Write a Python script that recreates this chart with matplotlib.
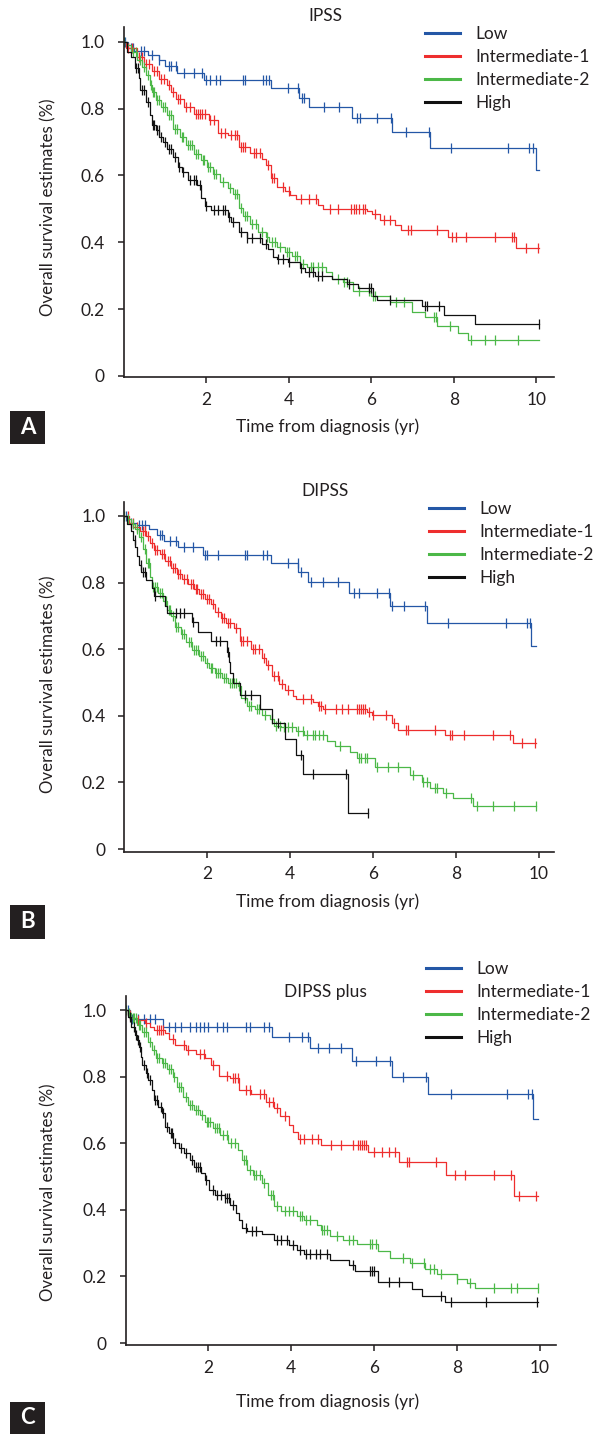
import matplotlib
matplotlib.use('Agg')
import matplotlib.pyplot as plt
from matplotlib.lines import Line2D
from matplotlib.patches import Rectangle
import numpy as np

plt.rcParams['font.family'] = ['Lato', 'DejaVu Sans']

W, H = 593, 1434
TXT = '#231f20'
COLORS = ['#2457a6', '#ee2e2e', '#4cb848', '#111111']
GROUPS = ['Low', 'Intermediate-1', 'Intermediate-2', 'High']
TITLES = ['IPSS', 'DIPSS', 'DIPSS plus']
LETTERS = ['A', 'B', 'C']
YTICKS = [0, 0.2, 0.4, 0.6, 0.8, 1.0]
YTICKLABELS = ['0', '0.2', '0.4', '0.6', '0.8', '1.0']
XTICKS = [2, 4, 6, 8, 10]

# ---- IPSS ----
a_low_t = [0, 0.1, 0.25, 0.6, 0.85, 1.0, 1.3, 1.95, 3.58, 4.25, 4.5, 5.54, 6.51, 7.41, 9.98]
a_low_s = [1.0, 0.98, 0.972, 0.96, 0.945, 0.928, 0.907, 0.886, 0.862, 0.832, 0.806, 0.773, 0.731, 0.682, 0.615]
a_low_c = [0.03, 0.18, 0.23, 0.43, 0.5, 0.7, 0.87, 1.1, 1.15, 1.28, 1.47, 1.7, 1.9, 2.0, 2.1, 2.25, 2.34,
           2.9, 2.95, 3.38, 3.45, 3.53, 3.99, 4.22, 4.33, 4.38, 4.86, 5.23, 5.65, 5.72, 6.15, 6.47, 6.83,
           7.39, 7.94, 9.31, 9.82, 9.91]

a_int1_t = [0, 0.05, 0.32, 0.5, 0.69, 0.87, 1.06, 1.15, 1.28, 1.47, 1.7, 2.06, 2.29, 2.52, 2.8, 3.07, 3.35,
            3.44, 3.58, 3.72, 3.9, 4.04, 4.17, 4.72, 4.82, 5.9, 6.02, 6.22, 6.58, 6.72, 7.85, 9.5]
a_int1_s = [1.0, 0.98, 0.955, 0.933, 0.913, 0.889, 0.87, 0.85, 0.83, 0.804, 0.785, 0.765, 0.726, 0.72, 0.686,
            0.668, 0.648, 0.631, 0.591, 0.566, 0.553, 0.54, 0.529, 0.512, 0.5, 0.492, 0.485, 0.467, 0.452,
            0.437, 0.417, 0.382]
a_int1_c = [0.1, 0.2, 0.38, 0.45, 0.55, 0.62, 0.75, 0.8, 0.92, 0.98, 1.1, 1.2, 1.33, 1.38, 1.52, 1.6, 1.75,
            1.8, 1.85, 1.9, 1.97, 2.1, 2.2, 2.35, 2.45, 2.6, 2.7, 2.75, 2.85, 2.9, 2.95, 3.15, 3.22, 3.3,
            3.5, 3.6, 3.65, 3.85, 4.0, 4.3, 4.5, 4.65, 5.0, 5.2, 5.5, 5.58, 5.63, 5.7, 5.8, 5.85, 6.1,
            6.3, 6.45, 6.9, 6.95, 7.6, 7.95, 8.05, 8.3, 9.0, 9.4, 9.45, 9.75, 10.03]

a_int2_t = [0, 0.09, 0.18, 0.32, 0.46, 0.55, 0.64, 0.69, 0.78, 0.92, 1.06, 1.19, 1.38, 1.51, 1.7, 1.88,
            2.02, 2.16, 2.34, 2.52, 2.66, 2.8, 2.89, 3.07, 3.26, 3.44, 3.53, 3.72, 3.9, 4.08, 4.27, 4.45,
            4.91, 5.05, 5.31, 5.56, 6.0, 6.46, 6.99, 7.31, 7.6, 8.09, 8.35]
a_int2_s = [1.0, 0.99, 0.97, 0.945, 0.925, 0.9, 0.87, 0.85, 0.825, 0.806, 0.78, 0.74, 0.715, 0.69, 0.665,
            0.646, 0.625, 0.605, 0.58, 0.561, 0.545, 0.501, 0.48, 0.455, 0.43, 0.415, 0.4, 0.385, 0.37,
            0.36, 0.335, 0.325, 0.31, 0.289, 0.28, 0.254, 0.24, 0.22, 0.19, 0.176, 0.148, 0.128, 0.108]
a_int2_c = [0.0, 0.22, 0.3, 0.4, 0.5, 0.6, 0.66, 0.72, 0.75, 0.82, 0.86, 0.95, 1.0, 1.1, 1.15, 1.25, 1.3,
            1.42, 1.45, 1.55, 1.6, 1.65, 1.75, 1.8, 1.92, 1.96, 2.05, 2.1, 2.2, 2.25, 2.4, 2.58, 2.7, 2.75,
            2.85, 2.95, 3.0, 3.12, 3.2, 3.35, 3.48, 3.6, 3.68, 3.8, 3.95, 4.0, 4.15, 4.2, 4.35, 4.55, 4.6,
            4.7, 4.8, 5.2, 5.35, 5.4, 5.7, 5.95, 6.05, 6.1, 6.6, 6.8, 7.52, 7.56, 7.9, 8.42, 8.75, 9.0, 9.55]

a_high_t = [0, 0.09, 0.18, 0.28, 0.37, 0.41, 0.55, 0.64, 0.69, 0.78, 0.87, 0.96, 1.06, 1.19, 1.33, 1.42,
            1.56, 1.79, 1.88, 1.97, 2.11, 2.52, 2.61, 2.8, 2.98, 3.35, 3.49, 3.62, 3.72, 3.99, 4.27, 4.4,
            4.63, 5.05, 5.4, 5.69, 6.05, 6.13, 7.22, 7.77, 8.51]
a_high_s = [1.0, 0.97, 0.955, 0.92, 0.89, 0.855, 0.82, 0.78, 0.75, 0.735, 0.715, 0.7, 0.68, 0.656, 0.626,
            0.61, 0.586, 0.57, 0.531, 0.509, 0.495, 0.475, 0.462, 0.43, 0.412, 0.395, 0.38, 0.357, 0.35,
            0.34, 0.322, 0.31, 0.3, 0.29, 0.275, 0.263, 0.24, 0.228, 0.21, 0.183, 0.156]
a_high_c = [0.3, 0.35, 0.45, 0.5, 0.6, 0.72, 0.75, 0.8, 0.85, 0.9, 1.0, 1.1, 1.15, 1.25, 1.35, 1.45, 1.6,
            1.7, 1.75, 1.85, 2.0, 2.2, 2.3, 2.4, 2.45, 2.55, 2.65, 2.85, 3.0, 3.1, 3.3, 3.45, 3.75, 3.85,
            4.0, 4.3, 4.5, 4.6, 4.7, 4.8, 5.45, 5.95, 6.0, 6.45, 7.3, 7.35, 7.65, 10.05]

# ---- DIPSS ----
b_low_t = [0, 0.1, 0.3, 0.6, 0.8, 0.95, 1.3, 1.9, 3.53, 4.2, 4.43, 5.43, 6.41, 7.29, 9.8]
b_low_s = [1.0, 0.98, 0.973, 0.96, 0.943, 0.926, 0.906, 0.883, 0.86, 0.833, 0.803, 0.77, 0.73, 0.678, 0.61]
b_low_c = [0.05, 0.15, 0.35, 0.43, 0.5, 0.85, 0.9, 1.1, 1.25, 1.45, 1.65, 1.95, 2.0, 2.25, 2.9, 2.95,
           3.35, 3.43, 3.95, 4.18, 4.27, 4.5, 4.8, 5.15, 5.55, 5.65, 6.1, 6.38, 6.45, 6.75, 7.25, 7.8,
           9.2, 9.7, 9.78]

b_int1_t = [0, 0.12, 0.21, 0.39, 0.53, 0.62, 0.71, 0.85, 0.99, 1.13, 1.26, 1.4, 1.54, 1.68, 1.81, 1.95,
            2.09, 2.18, 2.32, 2.46, 2.64, 2.78, 3.05, 3.33, 3.42, 3.56, 3.74, 3.88, 4.06, 4.15, 4.56, 4.66,
            4.79, 5.85, 5.97, 6.45, 6.6, 7.73, 9.37]
b_int1_s = [1.0, 0.98, 0.968, 0.955, 0.94, 0.92, 0.898, 0.885, 0.866, 0.845, 0.826, 0.81, 0.795, 0.78,
            0.765, 0.75, 0.735, 0.713, 0.695, 0.68, 0.665, 0.626, 0.6, 0.575, 0.553, 0.52, 0.495, 0.478,
            0.46, 0.45, 0.44, 0.428, 0.42, 0.41, 0.402, 0.377, 0.357, 0.342, 0.319]
b_int1_c = [0.1, 0.2, 0.3, 0.45, 0.5, 0.58, 0.66, 0.75, 0.8, 0.9, 0.95, 1.05, 1.1, 1.18, 1.22, 1.3, 1.35,
            1.45, 1.5, 1.6, 1.65, 1.72, 1.76, 1.85, 1.9, 2.0, 2.05, 2.14, 2.25, 2.35, 2.4, 2.5, 2.55,
            2.7, 2.82, 2.87, 2.95, 3.1, 3.15, 3.25, 3.38, 3.47, 3.6, 3.7, 3.8, 3.95, 4.3, 4.5, 4.7, 4.75,
            4.85, 5.1, 5.25, 5.4, 5.6, 5.65, 5.7, 5.75, 5.8, 5.9, 6.0, 6.3, 6.5, 6.8, 6.85, 7.5, 7.85,
            7.9, 8.2, 8.9, 9.3, 9.6, 9.9]

b_int2_t = [0, 0.07, 0.16, 0.26, 0.35, 0.44, 0.53, 0.62, 0.67, 0.81, 0.94, 1.04, 1.13, 1.22, 1.36, 1.49,
            1.63, 1.81, 1.95, 2.04, 2.18, 2.36, 2.5, 2.73, 2.82, 2.96, 3.14, 3.33, 3.51, 3.6, 3.79, 4.15,
            4.34, 4.89, 5.07, 5.44, 5.6, 6.05, 6.89, 7.17, 7.37, 7.69, 7.93, 8.42]
b_int2_s = [1.0, 0.99, 0.975, 0.96, 0.938, 0.9, 0.86, 0.818, 0.788, 0.77, 0.745, 0.718, 0.7, 0.668,
            0.645, 0.623, 0.598, 0.58, 0.558, 0.545, 0.53, 0.515, 0.498, 0.49, 0.453, 0.428, 0.42, 0.403,
            0.39, 0.368, 0.365, 0.355, 0.343, 0.323, 0.31, 0.292, 0.272, 0.247, 0.222, 0.202, 0.182,
            0.167, 0.152, 0.129]
b_int2_c = [0.0, 0.1, 0.2, 0.3, 0.4, 0.5, 0.56, 0.6, 0.7, 0.75, 0.78, 0.85, 0.9, 0.97, 1.0, 1.07, 1.1,
            1.18, 1.25, 1.3, 1.4, 1.45, 1.55, 1.6, 1.67, 1.72, 1.77, 1.85, 1.9, 2.0, 2.08, 2.12, 2.2, 2.25,
            2.3, 2.4, 2.45, 2.55, 2.6, 2.65, 2.7, 2.77, 2.9, 3.0, 3.05, 3.2, 3.25, 3.4, 3.55, 3.65, 3.75,
            3.85, 3.95, 4.05, 4.2, 4.3, 4.4, 4.55, 4.6, 4.7, 4.8, 5.2, 5.65, 5.7, 5.8, 5.85, 6.1, 6.35,
            6.6, 6.95, 7.2, 7.3, 7.5, 7.55, 7.75, 8.35, 8.5, 8.9, 9.4, 9.93]

b_high_t = [0, 0.07, 0.16, 0.21, 0.26, 0.3, 0.35, 0.41, 0.53, 0.67, 0.71, 0.99, 1.04, 1.63, 1.77, 2.09,
            2.48, 2.52, 2.56, 2.61, 2.78, 3.28, 3.56, 3.88, 4.15, 4.32, 5.4]
b_high_s = [1.0, 0.975, 0.955, 0.928, 0.908, 0.88, 0.853, 0.833, 0.808, 0.785, 0.76, 0.73, 0.71, 0.683,
            0.653, 0.626, 0.593, 0.563, 0.528, 0.498, 0.463, 0.42, 0.378, 0.33, 0.283, 0.226, 0.107]
b_high_c = [0.25, 0.4, 0.45, 0.5, 0.75, 1.25, 1.35, 1.45, 1.65, 2.2, 2.3, 2.5, 2.9, 3.05, 3.7, 4.25, 4.55,
            5.35, 5.88]

# ---- DIPSS plus ----
c_low_t = [0, 0.1, 0.9, 3.53, 4.45, 5.46, 6.42, 7.29, 9.82]
c_low_s = [1.0, 0.973, 0.95, 0.918, 0.885, 0.847, 0.8, 0.747, 0.672]
c_low_c = [0.05, 0.15, 0.3, 0.45, 0.6, 0.7, 1.05, 1.2, 1.35, 1.55, 1.7, 1.8, 1.9, 2.0, 2.2, 2.35, 2.45,
           2.9, 3.0, 3.35, 3.45, 3.95, 4.25, 4.4, 4.65, 4.9, 5.2, 5.55, 6.05, 6.38, 6.7, 7.25, 7.85,
           9.2, 9.7, 9.8]

c_int1_t = [0, 0.05, 0.14, 0.28, 0.46, 0.6, 0.69, 0.96, 1.06, 1.19, 1.47, 1.7, 1.93, 2.06, 2.25, 2.52,
            2.75, 3.03, 3.39, 3.58, 3.72, 3.94, 4.04, 4.17, 4.72, 5.86, 6.61, 7.73, 9.37]
c_int1_s = [1.0, 0.985, 0.975, 0.97, 0.96, 0.95, 0.94, 0.93, 0.913, 0.895, 0.88, 0.867, 0.855, 0.835,
            0.803, 0.795, 0.76, 0.748, 0.725, 0.705, 0.682, 0.655, 0.635, 0.612, 0.595, 0.574, 0.543,
            0.505, 0.441]
c_int1_c = [0.1, 0.3, 0.5, 0.75, 0.8, 0.85, 0.9, 1.15, 1.4, 1.5, 1.8, 1.9, 2.1, 2.45, 2.6, 2.65, 2.72,
            2.9, 3.0, 3.25, 3.35, 3.45, 3.55, 3.65, 3.85, 4.2, 4.3, 4.5, 4.65, 4.95, 5.2, 5.5, 5.6, 5.65,
            5.7, 5.75, 5.8, 6.0, 6.2, 6.35, 6.5, 6.8, 6.85, 7.5, 7.95, 8.2, 8.9, 9.3, 9.5, 9.9]

c_int2_t = [0, 0.05, 0.14, 0.28, 0.41, 0.55, 0.64, 0.73, 0.87, 1.01, 1.15, 1.24, 1.38, 1.51, 1.65, 1.79,
            1.93, 2.11, 2.29, 2.48, 2.71, 2.8, 2.94, 3.07, 3.3, 3.44, 3.58, 3.76, 4.13, 4.31, 4.63, 4.72,
            4.93, 5.25, 5.58, 6.1, 6.38, 6.86, 7.23, 7.51, 7.99, 8.23, 8.43]
c_int2_s = [1.0, 0.99, 0.975, 0.955, 0.935, 0.905, 0.88, 0.855, 0.84, 0.822, 0.8, 0.77, 0.74, 0.715,
            0.7, 0.685, 0.665, 0.645, 0.625, 0.6, 0.58, 0.55, 0.52, 0.505, 0.48, 0.445, 0.41, 0.395,
            0.38, 0.37, 0.355, 0.34, 0.322, 0.309, 0.296, 0.276, 0.254, 0.239, 0.222, 0.206, 0.191,
            0.179, 0.164]
c_int2_c = [0.0, 0.08, 0.17, 0.2, 0.25, 0.32, 0.35, 0.45, 0.5, 0.6, 0.68, 0.76, 0.8, 0.9, 0.95, 1.05,
            1.1, 1.18, 1.3, 1.35, 1.45, 1.55, 1.6, 1.7, 1.75, 1.85, 1.97, 2.0, 2.05, 2.15, 2.2, 2.25,
            2.35, 2.45, 2.55, 2.65, 2.85, 2.9, 3.0, 3.1, 3.15, 3.25, 3.35, 3.5, 3.55, 3.65, 3.85, 3.95,
            4.05, 4.2, 4.25, 4.35, 4.45, 4.75, 4.8, 4.85, 5.1, 5.4, 5.5, 5.9, 5.95, 6.05, 6.7, 6.9, 7.2,
            7.35, 7.45, 7.6, 8.0, 8.3, 8.9, 9.3, 9.45, 9.94]

c_high_t = [0, 0.05, 0.14, 0.23, 0.28, 0.32, 0.37, 0.41, 0.5, 0.55, 0.64, 0.69, 0.78, 0.87, 0.96, 1.06,
            1.15, 1.28, 1.42, 1.56, 1.65, 1.83, 1.93, 2.02, 2.16, 2.39, 2.52, 2.66, 2.75, 2.8, 2.94, 3.3,
            3.58, 3.94, 4.13, 4.31, 4.93, 5.38, 5.54, 6.1, 6.9, 7.15, 7.71]
c_high_s = [1.0, 0.98, 0.95, 0.925, 0.91, 0.89, 0.86, 0.835, 0.81, 0.79, 0.76, 0.73, 0.71, 0.69, 0.65,
            0.63, 0.6, 0.585, 0.57, 0.55, 0.53, 0.51, 0.49, 0.46, 0.445, 0.435, 0.415, 0.39, 0.37, 0.345,
            0.335, 0.328, 0.31, 0.295, 0.28, 0.267, 0.249, 0.234, 0.216, 0.182, 0.162, 0.142, 0.124]
c_high_c = [0.1, 0.2, 0.25, 0.3, 0.35, 0.45, 0.52, 0.6, 0.7, 0.75, 0.85, 0.9, 1.0, 1.1, 1.12, 1.2, 1.35,
            1.45, 1.6, 1.7, 1.75, 1.8, 1.95, 2.1, 2.2, 2.3, 2.4, 2.45, 2.5, 2.6, 2.9, 3.05, 3.15, 3.65,
            3.75, 3.9, 4.05, 4.2, 4.35, 4.45, 4.6, 4.7, 4.85, 5.5, 5.9, 5.95, 6.0, 6.35, 6.6, 7.6, 7.85,
            8.7, 9.92]

A_END, B_END, C_END = 10.06, 9.93, 9.94
B_HIGH_END = 5.88

panels = [
    [(a_low_t, a_low_s, a_low_c, A_END), (a_int1_t, a_int1_s, a_int1_c, A_END),
     (a_int2_t, a_int2_s, a_int2_c, A_END), (a_high_t, a_high_s, a_high_c, A_END)],
    [(b_low_t, b_low_s, b_low_c, B_END), (b_int1_t, b_int1_s, b_int1_c, B_END),
     (b_int2_t, b_int2_s, b_int2_c, B_END), (b_high_t, b_high_s, b_high_c, B_HIGH_END)],
    [(c_low_t, c_low_s, c_low_c, C_END), (c_int1_t, c_int1_s, c_int1_c, C_END),
     (c_int2_t, c_int2_s, c_int2_c, C_END), (c_high_t, c_high_s, c_high_c, C_END)],
]

# layout in pixels
boxes = [(123.5, 27.3, 554, 377.3), (124.3, 502, 554.4, 851.7), (125.5, 995.7, 556, 1345)]
per_year = [41.3, 41.47, 41.45]
ylims = [(-0.004, 1.043), (-0.008, 1.042), (-0.006, 1.043)]
title_y = [16, 491, 992]
legend_xy = [(425, 26), (429, 501), (426, 961)]
xlabel_y = [427, 902, 1402]
ylabel_y = [207, 684, 1192]
letter_box = [(411, 444), (905, 939), (1402, 1434)]


def fx(x):
    return x / W


def fy(y):
    return 1 - y / H


def km_curve(ax, t, s, cens, end, color):
    t = np.asarray(t)
    s = np.asarray(s)
    ax.step(np.append(t, end), np.append(s, s[-1]), where='post', color=color, lw=0.9)
    cens = np.asarray(cens)
    cy = s[np.searchsorted(t, cens, side='right') - 1]
    ax.plot(cens, cy, ls='none', marker='|', ms=6.5, mew=0.9, color=color)


fig = plt.figure(figsize=(W / 100, H / 100), dpi=100)

for i, curves in enumerate(panels):
    l, t, r, b = boxes[i]
    ax = fig.add_axes([fx(l), fy(b), (r - l) / W, (b - t) / H])
    for (ct, cs, cc, end), color in zip(curves, COLORS):
        km_curve(ax, ct, cs, cc, end, color)
    ax.set_xlim(0, (r - l) / per_year[i])
    ax.set_ylim(*ylims[i])
    for side in ['top', 'right']:
        ax.spines[side].set_visible(False)
    for side in ['left', 'bottom']:
        ax.spines[side].set_linewidth(1.2)
        ax.spines[side].set_color(TXT)
    ax.set_yticks(YTICKS)
    ax.set_yticklabels(YTICKLABELS)
    ax.set_xticks(XTICKS)
    ax.set_xticklabels([str(v) for v in XTICKS])
    ax.tick_params(axis='both', direction='out', length=4.5, width=1.1, colors=TXT,
                   labelsize=12.5)
    ax.tick_params(axis='y', pad=9)
    ax.tick_params(axis='x', pad=6)

    handles = [Line2D([], [], color=c, lw=2.2) for c in COLORS]
    lx, ly = legend_xy[i]
    ax.legend(handles, GROUPS, loc='upper left', bbox_to_anchor=(fx(lx), fy(ly)),
              bbox_transform=fig.transFigure, frameon=False, fontsize=12.5,
              handlelength=2.0, handletextpad=0.9, labelspacing=0.4, borderpad=0,
              borderaxespad=0, labelcolor=TXT)

    fig.text(fx(325), fy(title_y[i]), TITLES[i], ha='center', va='center', fontsize=12.5, color=TXT)
    fig.text(fx(328), fy(xlabel_y[i]), 'Time from diagnosis (yr)', ha='center', va='center',
             fontsize=12.5, color=TXT)
    fig.text(fx(48.7), fy(ylabel_y[i]), 'Overall survival estimates (%)', ha='center', va='center',
             rotation=90, fontsize=12.2, color=TXT)

    y0, y1 = letter_box[i]
    fig.patches.append(Rectangle((fx(10), fy(y1)), 35 / W, (y1 - y0) / H, transform=fig.transFigure,
                                 facecolor=TXT, edgecolor='none'))
    fig.text(fx(27.5), fy((y0 + y1) / 2), LETTERS[i], ha='center', va='center', fontsize=16,
             fontweight='bold', color='white')

fig.savefig('out.png', dpi=100)
